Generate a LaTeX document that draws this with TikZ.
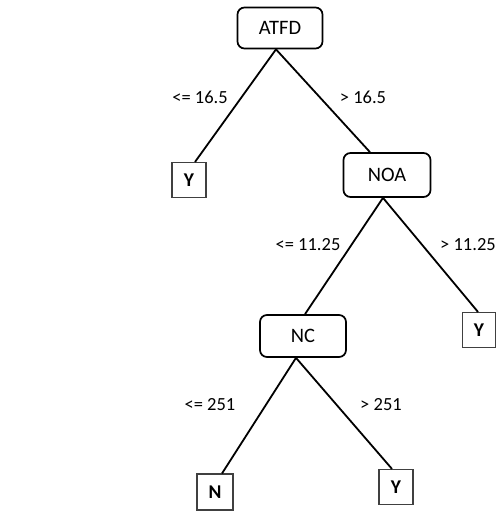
\documentclass[tikz,border=0pt]{standalone}
\usepackage{fontspec}
\setmainfont{Carlito}
\begin{document}
\begin{tikzpicture}[x=1pt,y=-1pt,
  inner/.style={draw,line width=1.7pt,rounded corners=7pt,inner sep=0pt,
    font=\fontsize{20.5}{24}\selectfont},
  leaf/.style={draw=black!75,line width=1.1pt,inner sep=0pt,minimum width=34pt,minimum height=35pt,
    font=\bfseries\fontsize{19.5}{23}\selectfont},
  edge/.style={line width=1.8pt},
  lbl/.style={inner sep=0pt,font=\fontsize{18.5}{21}\selectfont}]
\useasboundingbox (0,0) rectangle (497,512);
\node[inner,minimum width=85pt,minimum height=41pt] (atfd) at (280,28) {ATFD};
\node[leaf] (y1) at (189,180) {Y};
\node[inner,minimum width=87pt,minimum height=44pt] (noa) at (387,175) {NOA};
\node[inner,minimum width=86pt,minimum height=42pt] (nc) at (303,336) {NC};
\node[leaf,minimum width=33pt] (y2) at (479,330) {Y};
\node[leaf,minimum width=36pt,minimum height=36pt] (n) at (215,492) {N};
\node[leaf] (y3) at (396,487) {Y};
\draw[edge] ([xshift=-4pt]atfd.south) -- ([xshift=6pt]y1.north);
\draw[edge] ([xshift=-4pt]atfd.south) -- ([xshift=-17pt]noa.north);
\draw[edge] ([xshift=-4pt]noa.south) -- ([xshift=2pt]nc.north);
\draw[edge] ([xshift=-4pt]noa.south) -- ([xshift=-1pt]y2.north);
\draw[edge] ([xshift=-7pt]nc.south) -- ([xshift=7pt]n.north);
\draw[edge] ([xshift=-7pt]nc.south) -- ([xshift=-4pt]y3.north);
\node[lbl] (l1) at (200,97) {<= 16.5};
\node[lbl] (l2) at (363,97) {> 16.5};
\node[lbl] (l3) at (308,245) {<= 11.25};
\node[lbl] (l4) at (468,245) {> 11.25};
\node[lbl] (l5) at (210,405) {<= 251};
\node[lbl] (l6) at (381,405) {> 251};
\end{tikzpicture}
\end{document}
